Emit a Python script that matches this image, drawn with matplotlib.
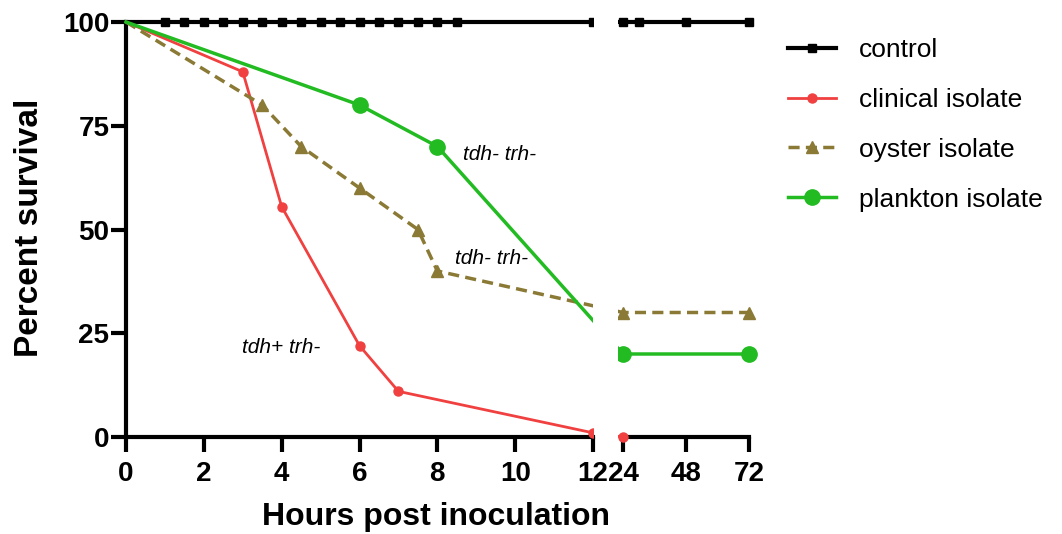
import numpy as np
import matplotlib
matplotlib.use("Agg")
import matplotlib.pyplot as plt

plt.rcParams["font.family"] = ["Liberation Sans", "DejaVu Sans"]
plt.rcParams["font.weight"] = "bold"

# data (hours, percent survival)
control_t = [0, 1, 1.5, 2, 2.5, 3, 3.5, 4, 4.5, 5, 5.5, 6, 6.5, 7, 7.5, 8, 8.5, 12, 24, 30, 48, 72]
control_y = [100] * len(control_t)
clinical_t = [0, 3, 4, 6, 7, 12, 24]
clinical_y = [100, 88, 55.5, 22, 11, 1, 0]
oyster_t = [0, 3.5, 4.5, 6, 7.5, 8, 24, 72]
oyster_y = [100, 80, 70, 60, 50, 40, 30, 30]
plankton_t = [0, 6, 8, 24, 72]
plankton_y = [100, 80, 70, 20, 20]

left_ticks = [0, 2, 4, 6, 8, 10, 12]
right_ticks = [24, 48, 72]
y_ticks = [0, 25, 50, 75, 100]

# broken time axis: 0-12 h linear, short gap, then 24-72 h compressed
GAP = 0.771
RATE = 0.06744


def fwd(t):
    t = np.asarray(t, dtype=float)
    return np.where(t <= 12, t,
                    np.where(t < 24, 12 + (t - 12) * GAP / 12,
                             12 + GAP + (t - 24) * RATE))


def inv(p):
    p = np.asarray(p, dtype=float)
    return np.where(p <= 12, p,
                    np.where(p < 12 + GAP, 12 + (p - 12) * 12 / GAP,
                             24 + (p - 12 - GAP) / RATE))


W, H = 1062, 534
PPU = 38.92      # pixels per position unit
X0 = 126         # pixel of t=0
fig = plt.figure(figsize=(W / 100, H / 100), dpi=100)

ylo, yhi = -2, 102
top_px, bot_px = 22 - 2 * 4.15, 437 + 2 * 4.15
b = 1 - bot_px / H
h = (bot_px - top_px) / H

lx0, lx1 = -0.4, 12
rx0, rx1 = 22, 75
l_left = X0 + float(fwd(lx0)) * PPU
l_w = (float(fwd(lx1)) - float(fwd(lx0))) * PPU
r_left = X0 + float(fwd(rx0)) * PPU
r_w = (float(fwd(rx1)) - float(fwd(rx0))) * PPU

axl = fig.add_axes([l_left / W, b, l_w / W, h])
axr = fig.add_axes([r_left / W, b, r_w / W, h])

red = "#f04040"
olive = "#8b7a35"
green = "#22bb22"
skip0 = slice(1, None)   # no marker drawn at the origin

for ax in (axl, axr):
    ax.set_xscale("function", functions=(fwd, inv))
    ax.plot(control_t, control_y, color="black", lw=3, marker="s", ms=5.5,
            markevery=skip0, zorder=4, label="control")
    ax.plot(clinical_t, clinical_y, color=red, lw=2, marker="o", ms=6.5,
            markevery=skip0, zorder=4, label="clinical isolate")
    ax.plot(oyster_t, oyster_y, color=olive, lw=2.5, ls=(0, (3.2, 1.8)),
            marker="^", ms=9, markevery=skip0, zorder=4, label="oyster isolate")
    ax.plot(plankton_t, plankton_y, color=green, lw=2.5, marker="o", ms=11,
            markevery=skip0, zorder=4, label="plankton isolate")
    for s in ("top", "right"):
        ax.spines[s].set_visible(False)
    ax.spines["bottom"].set_position(("data", 0))
    ax.spines["bottom"].set_linewidth(3)
    ax.set_ylim(ylo, yhi)
    ax.tick_params(axis="both", width=3, length=11, labelsize=20, pad=3)
    ax.tick_params(axis="x", pad=6)
    ax.minorticks_off()

axl.set_xlim(lx0, lx1)
axr.set_xlim(rx0, rx1)

axl.set_xticks(left_ticks)
axl.set_xticklabels([str(v) for v in left_ticks])
axr.set_xticks(right_ticks)
axr.set_xticklabels([str(v) for v in right_ticks])
# the break tick at 24 also pokes up through the axis line
axr.set_xticks([24], minor=True)
axr.tick_params(axis="x", which="minor", direction="in", length=10, width=3)
axl.set_yticks(y_ticks)
axl.set_yticklabels([str(v) for v in y_ticks])
axl.tick_params(axis="y", pad=1)

axl.spines["left"].set_position(("data", 0))
axl.spines["left"].set_linewidth(3)
axl.spines["left"].set_bounds(0, 100)
axl.spines["bottom"].set_bounds(0, 12)
axr.spines["left"].set_visible(False)
axr.spines["bottom"].set_bounds(24, 72)
axr.tick_params(axis="y", left=False, labelleft=False)
axl.minorticks_off()

ann = dict(style="italic", fontweight="normal", fontsize=15, va="center")
axl.text(8.65, 68, "tdh- trh-", **ann)
axl.text(8.46, 43, "tdh- trh-", **ann)
axl.text(2.98, 21.5, "tdh+ trh-", **ann)

fig.text(30 / W, 1 - 228 / H, "Percent survival", rotation=90, fontsize=24,
         ha="center", va="center")
fig.text(436 / W, 1 - 517 / H, "Hours post inoculation", fontsize=23,
         ha="center", va="center")

handles, labels = axl.get_legend_handles_labels()
fig.legend(handles, labels, loc="upper left",
           bbox_to_anchor=(788 / W, 1 - 38 / H), frameon=False,
           prop=dict(size=19, weight="normal"),
           handlelength=1.8, handletextpad=0.9, labelspacing=0.98,
           borderpad=0, borderaxespad=0)

fig.savefig("out.png", dpi=100)
